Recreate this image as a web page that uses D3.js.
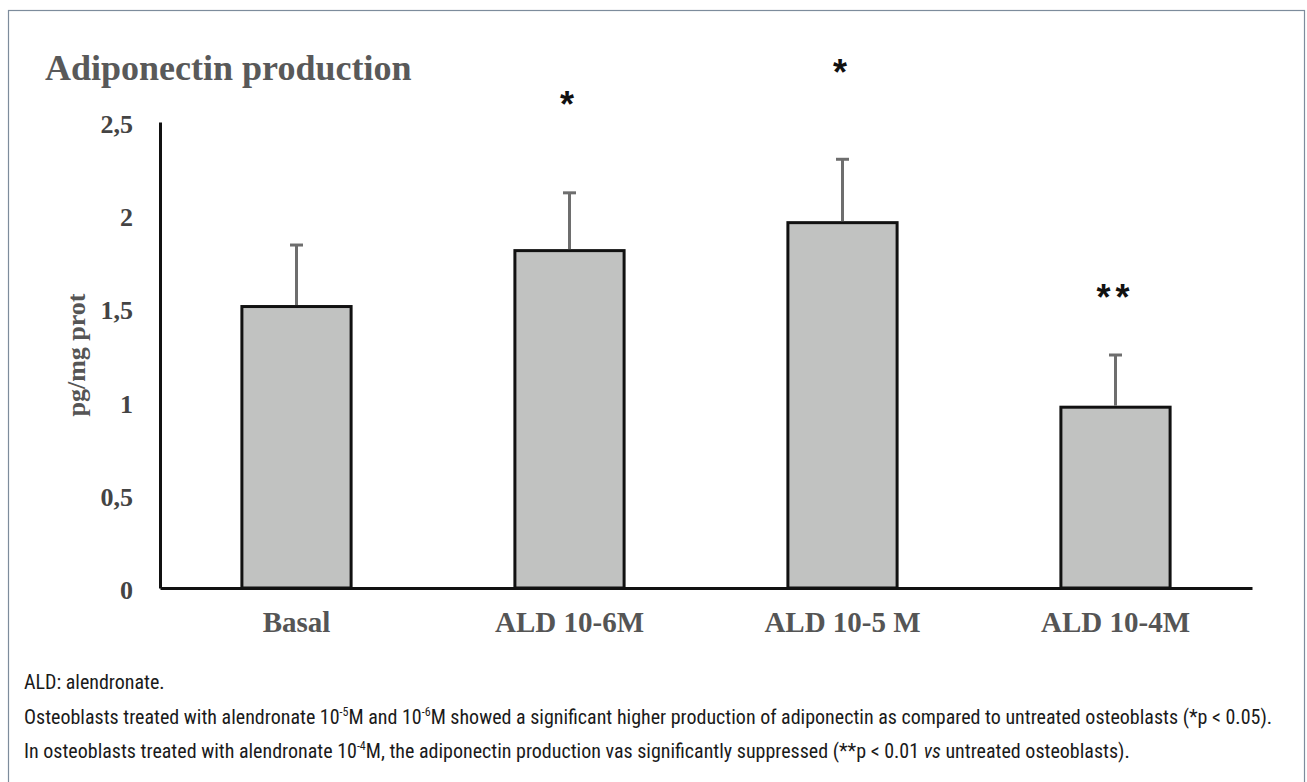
<!DOCTYPE html>
<meta charset="utf-8">
<style>

body {
  margin: 0;
  background: #fff;
}

svg {
  display: block;
  font-family: "Liberation Serif", "Times New Roman", serif;
}

.title {
  fill: #595959;
  font-size: 36px;
  font-weight: bold;
}

.axis path {
  stroke: #111;
  stroke-width: 3px;
}

.y.axis text {
  fill: #444;
  font-size: 26px;
  font-weight: bold;
  font-family: "Liberation Serif", serif;
}

.x.axis text {
  fill: #555;
  font-size: 29px;
  font-weight: bold;
  font-family: "Liberation Serif", serif;
}

.y-label {
  fill: #555;
  font-size: 26px;
  font-weight: bold;
  text-anchor: middle;
}

.bars rect {
  fill: #c1c2c1;
  stroke: #111;
  stroke-width: 3px;
}

.errors line {
  stroke: #6e6e6e;
  stroke-width: 3px;
}

.sig text {
  font-family: "Liberation Sans", Arial, sans-serif;
  font-size: 36px;
  font-weight: bold;
  fill: #111;
  text-anchor: middle;
  letter-spacing: 5px;
}

.caption text {
  font-family: "Liberation Sans Narrow", "Arial Narrow", "Roboto Condensed", "Liberation Sans", sans-serif;
  font-size: 20px;
  fill: #1a1a1a;
}

</style>
<svg></svg>
<script src="https://d3js.org/d3.v7.min.js"></script>
<script>

// data
var categories = ['Basal', 'ALD 10-6M', 'ALD 10-5 M', 'ALD 10-4M'];
var means = [1.51, 1.81, 1.96, 0.97];
var errors = [0.33, 0.31, 0.34, 0.28];      // upper SD
var sigMarks = ['', '*', '*', '**'];
var sigLevels = [null, 2.62, 2.79, 1.58];   // where the asterisks sit, in pg/mg prot
var yTicks = [0, 0.5, 1, 1.5, 2, 2.5];

var W = 1307, H = 782;

var svg = d3.select('svg')
  .attr('width', W)
  .attr('height', H);

// frame round the figure
svg.append('rect')
  .attr('x', 8.5)
  .attr('y', 10.5)
  .attr('width', 1296)
  .attr('height', 790)
  .attr('fill', 'none')
  .attr('stroke', '#7d8c9c')
  .attr('stroke-width', 1.2);

var x = d3.scaleBand()
  .domain(categories)
  .range([160, 1252])
  .paddingInner(0.6)
  .paddingOuter(0.3);

var y = d3.scaleLinear()
  .domain([0, 2.5])
  .range([588, 122]);

svg.append('text')
  .attr('class', 'title')
  .attr('x', 45)
  .attr('y', 80)
  .text('Adiponectin production');

svg.append('g').attr('class', 'bars')
  .selectAll('rect')
  .data(categories)
  .enter().append('rect')
  .attr('x', function (d) { return x(d); })
  .attr('y', function (d, i) { return y(means[i]); })
  .attr('width', x.bandwidth())
  .attr('height', function (d, i) { return y(0) - y(means[i]); });

var err = svg.append('g').attr('class', 'errors')
  .selectAll('g')
  .data(categories)
  .enter().append('g');

err.append('line')
  .attr('x1', function (d) { return x(d) + x.bandwidth() / 2; })
  .attr('x2', function (d) { return x(d) + x.bandwidth() / 2; })
  .attr('y1', function (d, i) { return y(means[i]) - 1.5; })
  .attr('y2', function (d, i) { return y(means[i] + errors[i]); });

err.append('line')
  .attr('x1', function (d) { return x(d) + x.bandwidth() / 2 - 6.5; })
  .attr('x2', function (d) { return x(d) + x.bandwidth() / 2 + 6.5; })
  .attr('y1', function (d, i) { return y(means[i] + errors[i]); })
  .attr('y2', function (d, i) { return y(means[i] + errors[i]); });

// letter-spacing adds a trailing gap, so nudge back by half of it
svg.append('g').attr('class', 'sig')
  .selectAll('text')
  .data(categories.filter(function (d, i) { return sigMarks[i]; }))
  .enter().append('text')
  .attr('x', function (d) { return x(d) + x.bandwidth() / 2; })
  .attr('y', function (d) { return y(sigLevels[categories.indexOf(d)]) + 17; })
  .text(function (d) { return sigMarks[categories.indexOf(d)]; });

var yAxis = d3.axisLeft(y)
  .tickValues(yTicks)
  .tickSize(0)
  .tickSizeOuter(0)
  .tickPadding(27)
  .tickFormat(function (d) { return String(d).replace('.', ','); });

var xAxis = d3.axisBottom(x)
  .tickSize(0)
  .tickSizeOuter(0)
  .tickPadding(23);

svg.append('g')
  .attr('class', 'y axis')
  .attr('transform', 'translate(160,0)')
  .call(yAxis);

svg.append('g')
  .attr('class', 'x axis')
  .attr('transform', 'translate(0,' + y(0) + ')')
  .call(xAxis);

svg.selectAll('.y.axis .tick text').attr('dy', '0.4em');

svg.append('text')
  .attr('class', 'y-label')
  .attr('transform', 'translate(85,355) rotate(-90)')
  .text('pg/mg prot');

// caption under the chart
var cap = svg.append('g').attr('class', 'caption');

cap.append('text')
  .attr('x', 24)
  .attr('y', 689)
  .text('ALD: alendronate.');

var l2 = cap.append('text')
  .attr('x', 24)
  .attr('y', 724);
l2.append('tspan').text('Osteoblasts treated with alendronate 10');
l2.append('tspan').attr('dy', -8).attr('font-size', '12px').text('-5');
l2.append('tspan').attr('dy', 8).text('M and 10');
l2.append('tspan').attr('dy', -8).attr('font-size', '12px').text('-6');
l2.append('tspan').attr('dy', 8).text('M showed a significant higher production of adiponectin as compared to untreated osteoblasts (*p < 0.05).');

var l3 = cap.append('text')
  .attr('x', 24)
  .attr('y', 758);
l3.append('tspan').text('In osteoblasts treated with alendronate 10');
l3.append('tspan').attr('dy', -8).attr('font-size', '12px').text('-4');
l3.append('tspan').attr('dy', 8).text('M, the adiponectin production vas significantly suppressed (**p < 0.01 ');
l3.append('tspan').attr('font-style', 'italic').text('vs');
l3.append('tspan').text(' untreated osteoblasts).');

</script>
